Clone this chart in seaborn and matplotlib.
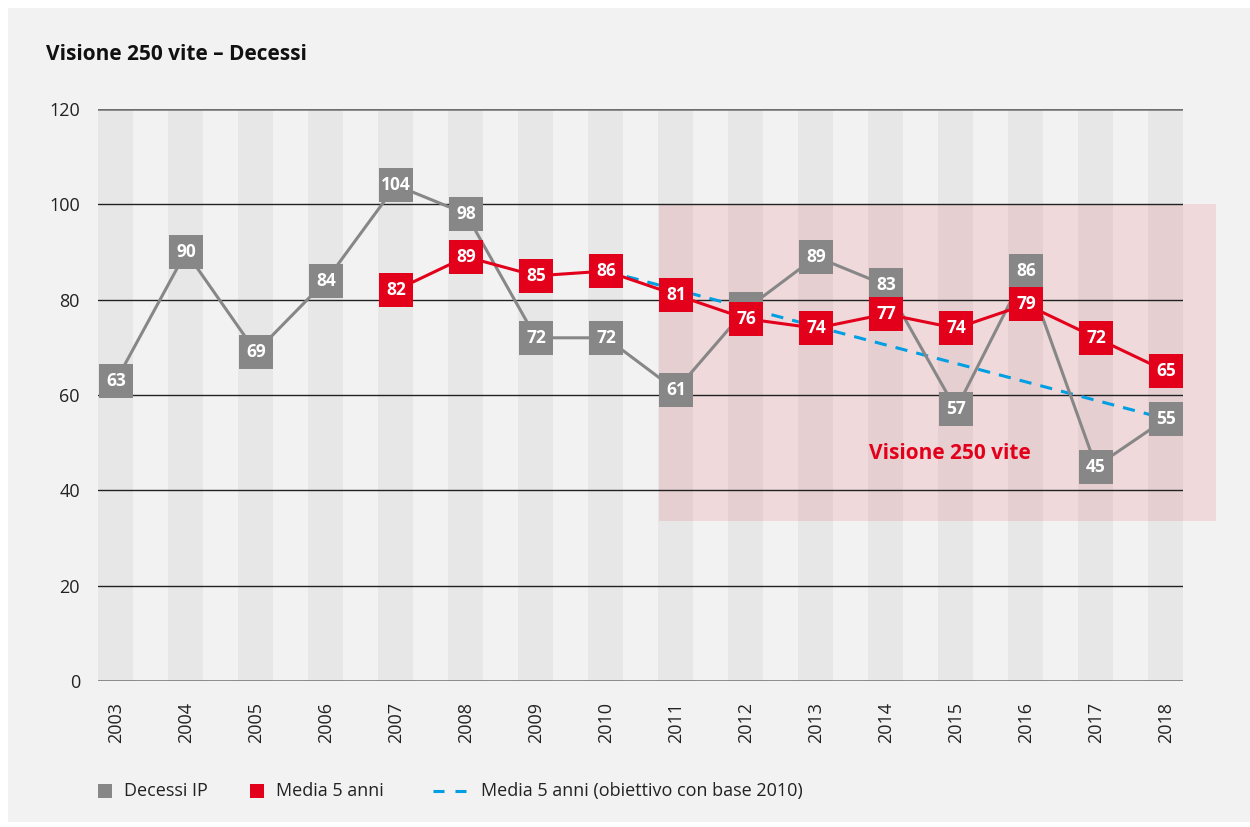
import pandas as pd
import seaborn as sns
import matplotlib.pyplot as plt
from matplotlib.patches import Rectangle
from matplotlib.lines import Line2D

anni = [2003, 2004, 2005, 2006, 2007, 2008, 2009, 2010,
        2011, 2012, 2013, 2014, 2015, 2016, 2017, 2018]
decessi = [63, 90, 69, 84, 104, 98, 72, 72, 61, 78, 89, 83, 57, 86, 45, 55]
anni_media = [2007, 2008, 2009, 2010, 2011, 2012, 2013, 2014, 2015, 2016, 2017, 2018]
media5 = [82, 89, 85, 86, 81, 76, 74, 77, 74, 79, 72, 65]
anni_obiettivo = [2010, 2018]
obiettivo = [86, 55]
# etichette nascoste dietro il quadrato rosso nell'originale
nascosti = [2012]

GRIGIO = '#878787'
ROSSO = '#e3001b'
BLU = '#009fe3'
SFONDO = '#f1f2f1'
W, H = 1250, 827

sns.set_theme(style='white')
plt.rcParams['font.family'] = ['Open Sans', 'DejaVu Sans']

fig = plt.figure(figsize=(12.5, 8.27), dpi=100, facecolor='white')
fig.patches.append(Rectangle((8 / W, 5 / H), 1 - 8 / W, 1 - 13 / H,
                             transform=fig.transFigure, facecolor=SFONDO,
                             edgecolor='none', zorder=-10))
ax = fig.add_axes([98 / W, 1 - 681 / H, 1085 / W, 572 / H])
ax.set_facecolor('none')

# colonne grigie di sfondo
ax.bar(anni, [120] * len(anni), width=0.5, color='#e6e7e6',
       edgecolor='none', linewidth=0, zorder=0)

# area "Visione 250 vite"
ax.add_patch(Rectangle((2010.757, 33.5), 7.96, 66.5, facecolor=ROSSO,
                       alpha=0.1, edgecolor='none', zorder=1, clip_on=False))

for v in [20, 40, 60, 80, 100]:
    ax.axhline(v, color='#222222', lw=1, zorder=2)
ax.axhline(120, color='#6f6f6f', lw=1.8, zorder=2)
ax.axhline(0, color='#6f6f6f', lw=1.8, zorder=2)

df_dec = pd.DataFrame({'anno': anni, 'valore': decessi})
df_med = pd.DataFrame({'anno': anni_media, 'valore': media5})
df_obj = pd.DataFrame({'anno': anni_obiettivo, 'valore': obiettivo})

sns.lineplot(data=df_obj, x='anno', y='valore', ax=ax, color=BLU, lw=2.2,
             linestyle=(0, (4, 3)), zorder=3)
sns.lineplot(data=df_dec, x='anno', y='valore', ax=ax, color=GRIGIO, lw=2.2,
             marker='s', markersize=25, markeredgewidth=0, zorder=4)
sns.lineplot(data=df_med, x='anno', y='valore', ax=ax, color=ROSSO, lw=2.2,
             marker='s', markersize=25, markeredgewidth=0, zorder=5)

for x, y in zip(anni, decessi):
    if x in nascosti:
        continue
    ax.text(x, y, str(y), color='white', fontsize=12.5, fontweight='bold',
            ha='center', va='center', zorder=4.5)
for x, y in zip(anni_media, media5):
    ax.text(x, y, str(y), color='white', fontsize=12.5, fontweight='bold',
            ha='center', va='center', zorder=5.5)

ax.text(2014.91, 47.8, 'Visione 250 vite', color=ROSSO, fontsize=15,
        fontweight='bold', ha='center', va='center', zorder=6)

ax.set_xlim(2002.743, 2018.243)
ax.set_ylim(0, 120)
ax.set_xticks(anni)
ax.set_xticklabels([str(a) for a in anni], rotation=90)
ax.set_yticks([0, 20, 40, 60, 80, 100, 120])
ax.tick_params(axis='x', length=0, pad=15, labelsize=13, labelcolor='#222222')
ax.tick_params(axis='y', length=0, pad=13, labelsize=13, labelcolor='#222222')
ax.set_xlabel('')
ax.set_ylabel('')
for s in ax.spines.values():
    s.set_visible(False)

fig.text(46 / W, 1 - 55 / H, 'Visione 250 vite – Decessi', fontsize=15,
         fontweight='bold', color='#111111', va='center', ha='left')

# legenda in basso
ly = 1 - 791 / H
sq = 14
fig.patches.append(Rectangle((98 / W, ly - sq / 2 / H), sq / W, sq / H,
                             transform=fig.transFigure, facecolor=GRIGIO,
                             edgecolor='none'))
fig.text(124 / W, ly, 'Decessi IP', fontsize=13, color='#222222',
         va='center', ha='left')
fig.patches.append(Rectangle((250 / W, ly - sq / 2 / H), sq / W, sq / H,
                             transform=fig.transFigure, facecolor=ROSSO,
                             edgecolor='none'))
fig.text(276 / W, ly, 'Media 5 anni', fontsize=13, color='#222222',
         va='center', ha='left')
fig.add_artist(Line2D([433 / W, 466 / W], [ly, ly], transform=fig.transFigure,
                      color=BLU, lw=2.2, linestyle=(0, (3.6, 3.6))))
fig.text(481 / W, ly, 'Media 5 anni (obiettivo con base 2010)', fontsize=13,
         color='#222222', va='center', ha='left')

fig.savefig('out.png', dpi=100, facecolor='white')
